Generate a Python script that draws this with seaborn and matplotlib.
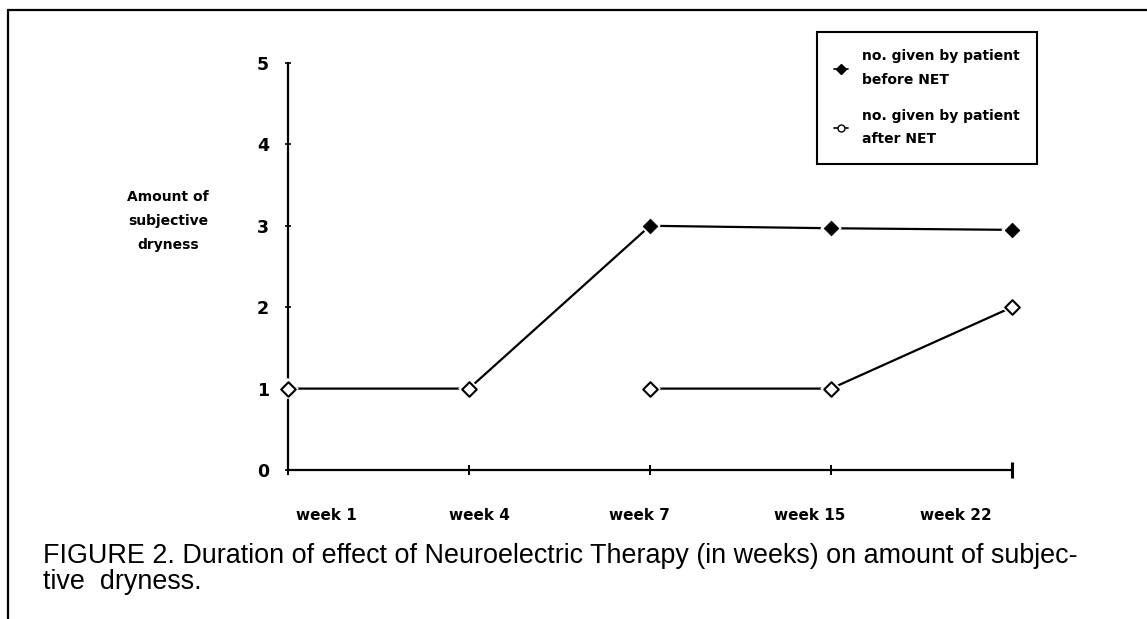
import numpy as np
import pandas as pd
import matplotlib
matplotlib.use("Agg")
import matplotlib.pyplot as plt
from matplotlib.lines import Line2D
import seaborn as sns

# ---- data ----
weeks = ["week 1", "week 4", "week 7", "week 15", "week 22"]
before_net = [1, 1, 3, 2.97, 2.95]
after_net = [1, 1, 1, 1, 2]
y_ticks = [0, 1, 2, 3, 4, 5]
legend_labels = ["no. given by patient\nbefore NET", "no. given by patient\nafter NET"]
y_label = "Amount of\nsubjective\ndryness"
caption_lines = ["FIGURE 2. Duration of effect of Neuroelectric Therapy (in weeks) on amount of subjec-",
                 "tive  dryness."]

sns.set_theme(style="ticks")
plt.rcParams['font.family'] = ['DejaVu Sans']
plt.rcParams['text.color'] = 'black'
plt.rcParams['xtick.color'] = 'black'
plt.rcParams['ytick.color'] = 'black'
plt.rcParams['xtick.labelcolor'] = 'black'
plt.rcParams['ytick.labelcolor'] = 'black'

W, H = 1147, 619
pos = np.arange(len(weeks))
df = pd.DataFrame({"pos": pos, "week": weeks, "before": before_net, "after": after_net})

fig = plt.figure(figsize=(W / 100, H / 100), dpi=100)
fig.patch.set_facecolor("white")
ax = fig.add_axes([288 / W, 1 - 470 / H, (1012 - 288) / W, (470 - 63) / H])
ax.set_facecolor("white")

lw = 1.6
sns.lineplot(data=df, x="pos", y="before", color="black", lw=lw, ax=ax, clip_on=False, zorder=3)
sns.lineplot(data=df.iloc[2:], x="pos", y="after", color="black", lw=lw, ax=ax, clip_on=False, zorder=3)
# white halo beneath markers
sns.scatterplot(data=df, x="pos", y="after", marker="D", s=120, color="white", edgecolor="none",
                ax=ax, clip_on=False, zorder=4, legend=False)
sns.scatterplot(data=df.iloc[2:], x="pos", y="before", marker="D", s=120, color="white", edgecolor="none",
                ax=ax, clip_on=False, zorder=4, legend=False)
sns.scatterplot(data=df.iloc[2:], x="pos", y="before", marker="D", s=55, color="black", edgecolor="black",
                ax=ax, clip_on=False, zorder=5, legend=False)
sns.scatterplot(data=df, x="pos", y="after", marker="D", s=55, facecolor="white", edgecolor="black",
                linewidth=1.5, ax=ax, clip_on=False, zorder=5, legend=False)

ax.set_xlim(0, len(weeks) - 1)
ax.set_ylim(y_ticks[0], y_ticks[-1])
for s in ["top", "right"]:
    ax.spines[s].set_visible(False)
for s in ["left", "bottom"]:
    ax.spines[s].set_linewidth(lw)
    ax.spines[s].set_color("black")

ax.set_xlabel("")
ax.set_ylabel("")
ax.set_yticks(y_ticks)
ax.set_yticklabels([str(v) for v in y_ticks], fontsize=12.5, fontweight="bold", color="black")
ax.tick_params(axis="y", direction="inout", length=5, width=1.2, pad=11, color="black")

# tick marks at categories, labels placed slightly offset (as in the original)
label_offsets = [0.21, 0.06, -0.06, -0.12, -0.31]
ax.set_xticks(pos)
ax.set_xticklabels([])
ax.tick_params(axis="x", which="major", direction="inout", length=7, width=1.4, color="black")
ax.set_xticks(pos + np.array(label_offsets), minor=True)
ax.set_xticklabels(weeks, minor=True, fontsize=11, fontweight="bold", color="black")
ax.tick_params(axis="x", which="minor", length=0, pad=27)
last = ax.xaxis.get_major_ticks()[-1]
last.tick1line.set_markersize(11)
last.tick1line.set_markeredgewidth(2.2)

fig.text(168 / W, 1 - 221 / H, y_label, ha="center", va="center", fontsize=10,
         fontweight="bold", linespacing=1.9, color="black")

handles = [Line2D([], [], color="black", marker="D", markersize=5, lw=1.2),
           Line2D([], [], color="black", marker="o", markerfacecolor="white", markersize=5, lw=1.2)]
leg = fig.legend(handles, legend_labels, loc="upper left", bbox_to_anchor=(817 / W, 1 - 32 / H),
                 frameon=True, fancybox=False, edgecolor="black", framealpha=1,
                 prop={"weight": "bold", "size": 10}, handlelength=1.0, labelspacing=1.6,
                 borderpad=1.25, handletextpad=1.0, borderaxespad=0)
leg.get_frame().set_linewidth(1.5)
for t in leg.get_texts():
    t.set_linespacing(1.85)
    t.set_color("black")
fig.canvas.draw()
bb = leg.get_window_extent()
# widen the legend frame slightly to the reference box width
leg._legend_box.set_width = None

# page frame
fig.add_artist(Line2D([8 / W, 1], [1 - 10 / H, 1 - 10 / H], transform=fig.transFigure, color="black", lw=1.6))
fig.add_artist(Line2D([8 / W, 8 / W], [1 - 10 / H, 0], transform=fig.transFigure, color="black", lw=1.6))

fig.text(43 / W, 1 - 556 / H, caption_lines[0], fontsize=19.4, family="Liberation Sans", va="center", color="black")
fig.text(43 / W, 1 - 582 / H, caption_lines[1], fontsize=19.4, family="Liberation Sans", va="center", color="black")

fig.savefig("out.png", dpi=100, facecolor="white")
